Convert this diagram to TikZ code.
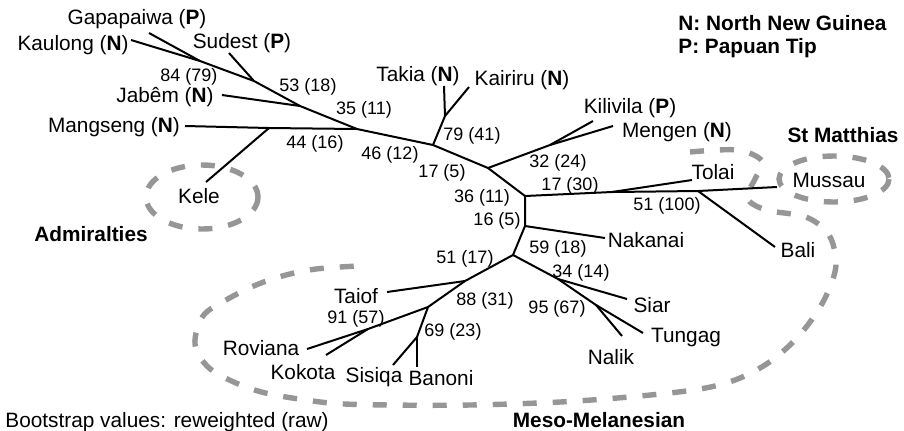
\documentclass[tikz,border=0pt]{standalone}
\usepackage{fontspec}
\setmainfont{Liberation Sans}
\newcommand\leaffont{\fontsize{10.4}{12}\selectfont}
\newcommand\bootfont{\fontsize{9}{11}\selectfont}
\definecolor{encgray}{RGB}{150,150,150}
\begin{document}
\begin{tikzpicture}[x=0.5pt,y=-0.5pt,
  leaf/.style={font=\leaffont, anchor=base, inner sep=0pt},
  boot/.style={font=\bootfont, anchor=base, inner sep=0pt},
  grp/.style={font=\leaffont\bfseries, anchor=base, inner sep=0pt},
  edge/.style={line width=1pt, black},
  enc/.style={draw=encgray, line width=2.7pt, dash pattern=on 7pt off 8pt}]
\useasboundingbox (0,0) rectangle (904,430);

% ---------- tree coordinates ----------
\coordinate (tKaulong) at (131,40);
\coordinate (tGapa) at (149,33);
\coordinate (a1) at (200,61);
\coordinate (tSudest) at (229,53);
\coordinate (a2) at (254,81);
\coordinate (tJabem) at (222,95);
\coordinate (j2) at (300,106);
\coordinate (j3) at (357,129);
\coordinate (tMangseng) at (185,126);
\coordinate (m) at (269,128);
\coordinate (tKele) at (206,182);
\coordinate (t) at (433,145);
\coordinate (tk) at (445,116);
\coordinate (tTakia) at (444,86);
\coordinate (tKairiru) at (469,87);
\coordinate (u) at (488,168);
\coordinate (km) at (550,145);
\coordinate (tKilivila) at (593,121);
\coordinate (tMengen) at (613,126);
\coordinate (v) at (525,196);
\coordinate (tj) at (612,192);
\coordinate (tTolai) at (692,180);
\coordinate (bj) at (698,191);
\coordinate (tMussau) at (777,187);
\coordinate (tBali) at (775,247);
\coordinate (w) at (525,226);
\coordinate (tNakanai) at (605,238);
\coordinate (x) at (513,255);
\coordinate (y) at (558,279);
\coordinate (tSiar) at (627,299);
\coordinate (z) at (596,305);
\coordinate (tTungag) at (643,333);
\coordinate (tNalik) at (622,336);
\coordinate (ta) at (465,281);
\coordinate (tTaiof) at (387,292);
\coordinate (rb) at (428,307);
\coordinate (rk) at (368,329);
\coordinate (tRoviana) at (307,349);
\coordinate (tKokota) at (326,355);
\coordinate (sb) at (417,337);
\coordinate (tSisiqa) at (393,365);
\coordinate (tBanoni) at (417,367);

% ---------- enclosures ----------
\draw[enc] (202,197) ellipse [x radius=56, y radius=32];
\draw[enc] (834,179) ellipse [x radius=55, y radius=23];
\draw[enc] plot[smooth, tension=0.55] coordinates {
  (690,152) (737,150) (762,161) (755,179) (747,198) (766,210) (806,217)
  (829,235) (836,265) (826,296) (810,322) (790,345) (765,365) (735,380)
  (700,389) (640,396) (560,402) (470,405) (390,405) (330,403) (270,394)
  (236,383) (208,367) (195,344) (203,316) (226,300) (256,285) (286,275)
  (316,269) (357,266)};

% ---------- edges ----------
\draw[edge] (tKaulong) -- (a1) -- (a2) -- (j2) -- (j3) -- (t) -- (u) -- (v) -- (w) -- (x);
\draw[edge] (tGapa) -- (a1);
\draw[edge] (tSudest) -- (a2);
\draw[edge] (tJabem) -- (j2);
\draw[edge] (tMangseng) -- (m) -- (j3);
\draw[edge] (tKele) -- (m);
\draw[edge] (t) -- (tk) -- (tTakia);
\draw[edge] (tk) -- (tKairiru);
\draw[edge] (u) -- (km) -- (tKilivila);
\draw[edge] (km) -- (tMengen);
\draw[edge] (v) -- (tj) -- (bj) -- (tMussau);
\draw[edge] (tj) -- (tTolai);
\draw[edge] (bj) -- (tBali);
\draw[edge] (w) -- (tNakanai);
\draw[edge] (x) -- (y) -- (z) -- (tTungag);
\draw[edge] (y) -- (tSiar);
\draw[edge] (z) -- (tNalik);
\draw[edge] (x) -- (ta) -- (tTaiof);
\draw[edge] (ta) -- (rb) -- (rk) -- (tRoviana);
\draw[edge] (rk) -- (tKokota);
\draw[edge] (rb) -- (sb) -- (tSisiqa);
\draw[edge] (sb) -- (tBanoni);

% ---------- leaf labels ----------
\node[leaf] (lGapa) at (137,24) {Gapapaiwa (\textbf{P})};
\node[leaf] (lKaulong) at (73,50) {Kaulong (\textbf{N})};
\node[leaf] (lSudest) at (242,48) {Sudest (\textbf{P})};
\node[leaf] (lJabem) at (165,102) {Jabêm (\textbf{N})};
\node[leaf] (lMangseng) at (114,132) {Mangseng (\textbf{N})};
\node[leaf] (lKele) at (199,203) {Kele};
\node[leaf] (lTakia) at (418,81) {Takia (\textbf{N})};
\node[leaf] (lKairiru) at (522,85) {Kairiru (\textbf{N})};
\node[leaf] (lKilivila) at (630,113) {Kilivila (\textbf{P})};
\node[leaf] (lMengen) at (677,137) {Mengen (\textbf{N})};
\node[leaf] (lTolai) at (713,179) {Tolai};
\node[leaf] (lMussau) at (829,187) {Mussau};
\node[leaf] (lBali) at (798,257) {Bali};
\node[leaf] (lNakanai) at (646,247) {Nakanai};
\node[leaf] (lSiar) at (652,312) {Siar};
\node[leaf] (lTungag) at (686,342) {Tungag};
\node[leaf] (lNalik) at (611,364) {Nalik};
\node[leaf] (lTaiof) at (356,303) {Taiof};
\node[leaf] (lRoviana) at (261,355) {Roviana};
\node[leaf] (lKokota) at (303,379) {Kokota};
\node[leaf] (lSisiqa) at (374,382) {Sisiqa};
\node[leaf] (lBanoni) at (441,385) {Banoni};

% ---------- group labels & legend ----------
\node[grp] (gAdm) at (91,241) {Admiralties};
\node[grp] (gStM) at (843,142) {St Matthias};
\node[grp] (gMeso) at (599,427) {Meso-Melanesian};
\node[grp, anchor=base west] (legN) at (678,30) {N: North New Guinea};
\node[grp, anchor=base west] (legP) at (678,53) {P: Papuan Tip};
\node[leaf, anchor=base west] (foot) at (5,427) {Bootstrap values: reweighted (raw)};

% ---------- bootstrap values ----------
\node[boot] (b1) at (189,81) {84 (79)};
\node[boot] (b2) at (308,91) {53 (18)};
\node[boot] (b3) at (364,114) {35 (11)};
\node[boot] (b4) at (315,148) {44 (16)};
\node[boot] (b5) at (390,159) {46 (12)};
\node[boot] (b6) at (472,140) {79 (41)};
\node[boot] (b7) at (442,177) {17 (5)};
\node[boot] (b8) at (558,167) {32 (24)};
\node[boot] (b9) at (570,190) {17 (30)};
\node[boot] (b10) at (482,202) {36 (11)};
\node[boot] (b11) at (497,225) {16 (5)};
\node[boot] (b12) at (667,210) {51 (100)};
\node[boot] (b13) at (558,253) {59 (18)};
\node[boot] (b14) at (465,263) {51 (17)};
\node[boot] (b15) at (581,277) {34 (14)};
\node[boot] (b16) at (557,313) {95 (67)};
\node[boot] (b17) at (485,305) {88 (31)};
\node[boot] (b18) at (356,323) {91 (57)};
\node[boot] (b19) at (453,336) {69 (23)};
\end{tikzpicture}
\end{document}
